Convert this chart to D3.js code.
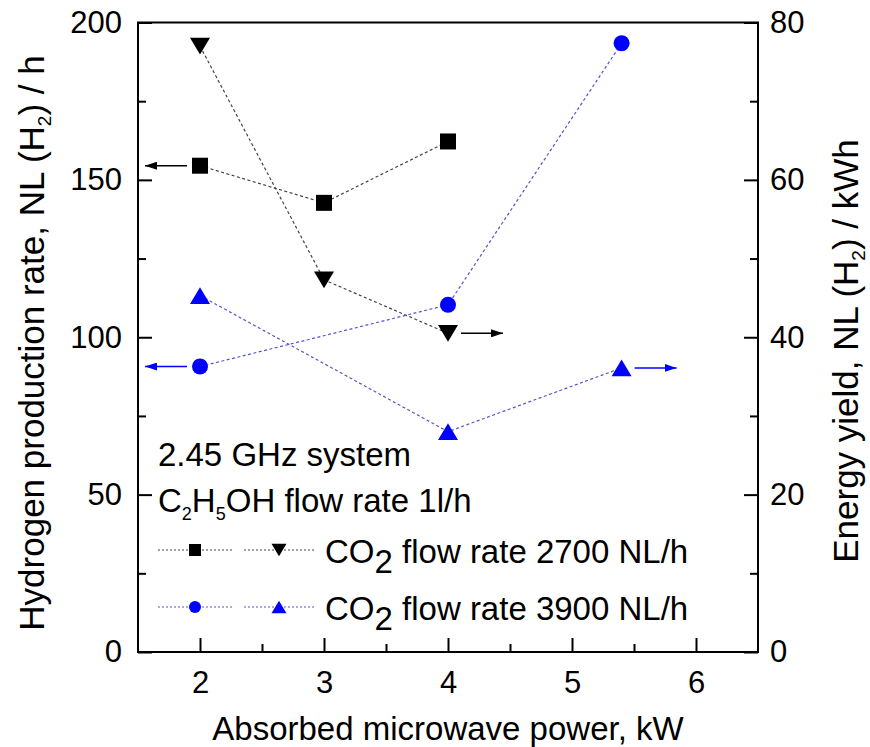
<!DOCTYPE html>
<html>
<head>
<meta charset="utf-8">
<script src="https://cdn.jsdelivr.net/npm/d3@7"></script>
<style>
  html, body { margin: 0; padding: 0; background: #fff; }
  svg { display: block; }
  text { font-family: "Liberation Sans", Arial, sans-serif; fill: #000; }
</style>
</head>
<body>
<svg id="chart" width="870" height="747"></svg>
<script>
// Absorbed microwave power, kW
const power2700 = [2, 3, 4];
const power3900 = [2, 4, 5.4];
// Hydrogen production rate, NL(H2)/h (left axis)
const h2Rate2700 = [154.5, 142.7, 162.2];
const h2Rate3900 = [90.7, 110.3, 193.4];
// Energy yield, NL(H2)/kWh (right axis)
const yield2700 = [77.0, 47.3, 40.5];
const yield3900 = [45.3, 28.0, 36.1];

const xTicks = [2, 3, 4, 5, 6];
const leftTicks = [0, 50, 100, 150, 200];
const rightTicks = [0, 20, 40, 60, 80];

const svg = d3.select("#chart");
const m = { left: 138, right: 758, top: 22.5, bottom: 652 };

const x = d3.scaleLinear().domain([1.5, 6.5]).range([m.left, m.right]);
const yL = d3.scaleLinear().domain([0, 200]).range([m.bottom, m.top]);
const yR = d3.scaleLinear().domain([0, 80]).range([m.bottom, m.top]);

const BLUE = "#0000ff";
const TICK_FS = 31;
const FS = 33;
const TITLE_FS = 35;

// arrowheads
const defs = svg.append("defs");
[["arrBlack", "#000"], ["arrBlue", BLUE]].forEach(([id, c]) => {
  defs.append("marker").attr("id", id)
    .attr("viewBox", "0 0 12 8").attr("refX", 12).attr("refY", 4)
    .attr("markerWidth", 12).attr("markerHeight", 8)
    .attr("markerUnits", "userSpaceOnUse").attr("orient", "auto")
    .append("path").attr("d", "M0,0 L12,4 L0,8 Z").attr("fill", c);
});

// frame
svg.append("rect")
  .attr("x", m.left).attr("y", m.top)
  .attr("width", m.right - m.left).attr("height", m.bottom - m.top)
  .attr("fill", "none").attr("stroke", "#000").attr("stroke-width", 2);

// axes with inward ticks
const axisStyle = g => {
  g.select(".domain").remove();
  g.selectAll(".tick line").attr("stroke", "#000").attr("stroke-width", 2);
  g.selectAll(".tick text").style("font-size", TICK_FS + "px")
    .style("font-family", '"Liberation Sans", Arial, sans-serif');
};
const minorStyle = g => {
  g.select(".domain").remove();
  g.selectAll(".tick text").remove();
  g.selectAll(".tick line").attr("stroke", "#000").attr("stroke-width", 2);
};

const minorX = [2.5, 3.5, 4.5, 5.5];
svg.append("g").attr("transform", `translate(0,${m.bottom})`)
  .call(d3.axisBottom(x).tickValues(minorX).tickSize(-8))
  .call(minorStyle);
svg.append("g").attr("transform", `translate(0,${m.bottom})`)
  .call(d3.axisBottom(x).tickValues(xTicks).tickSize(-14).tickPadding(19).tickFormat(d3.format("d")))
  .call(axisStyle);

const minorL = [25, 75, 125, 175];
svg.append("g").attr("transform", `translate(${m.left},0)`)
  .call(d3.axisLeft(yL).tickValues(minorL).tickSize(-8))
  .call(minorStyle);
svg.append("g").attr("transform", `translate(${m.left},0)`)
  .call(d3.axisLeft(yL).tickValues(leftTicks).tickSize(-14).tickPadding(16).tickFormat(d3.format("d")))
  .call(axisStyle);

const minorR = [10, 30, 50, 70];
svg.append("g").attr("transform", `translate(${m.right},0)`)
  .call(d3.axisRight(yR).tickValues(minorR).tickSize(-8))
  .call(minorStyle);
svg.append("g").attr("transform", `translate(${m.right},0)`)
  .call(d3.axisRight(yR).tickValues(rightTicks).tickSize(-14).tickPadding(12).tickFormat(d3.format("d")))
  .call(axisStyle);

// series
const series = [
  { xs: power2700, ys: h2Rate2700, y: yL, color: "#000", line: "#444", shape: "square" },
  { xs: power2700, ys: yield2700, y: yR, color: "#000", line: "#444", shape: "down" },
  { xs: power3900, ys: h2Rate3900, y: yL, color: BLUE, line: "#5555cc", shape: "circle" },
  { xs: power3900, ys: yield3900, y: yR, color: BLUE, line: "#5555cc", shape: "up" }
];

function symbolPath(shape, s) {
  if (shape === "square") return d3.symbol(d3.symbolSquare, s * s)();
  if (shape === "circle") return d3.symbol(d3.symbolCircle, Math.PI * (s / 2) * (s / 2))();
  const w = s * 1.25, h = s * 1.05;
  if (shape === "down") return `M${-w/2},${-h/2}L${w/2},${-h/2}L0,${h/2}Z`;
  return `M${-w/2},${h/2}L${w/2},${h/2}L0,${-h/2}Z`;
}

const line = d3.line();
series.forEach(sr => {
  const pts = sr.xs.map((v, i) => [x(v), sr.y(sr.ys[i])]);
  svg.append("path").attr("d", line(pts))
    .attr("fill", "none").attr("stroke", sr.line)
    .attr("stroke-width", 1.2).attr("stroke-dasharray", "3,2.5");
  svg.append("g").selectAll("path").data(pts).join("path")
    .attr("transform", d => `translate(${d[0]},${d[1]})`)
    .attr("d", symbolPath(sr.shape, 16))
    .attr("fill", sr.color);
});

// arrows showing which axis each series is read against
function arrow(px, py, dir, color, id) {
  const x0 = px + dir * 13, x1 = px + dir * 55;
  svg.append("line").attr("x1", x0).attr("y1", py).attr("x2", x1).attr("y2", py)
    .attr("stroke", color).attr("stroke-width", 1.5)
    .attr("marker-end", `url(#${id})`);
}
arrow(x(power2700[0]), yL(h2Rate2700[0]), -1, "#000", "arrBlack");
arrow(x(power2700[2]), yR(yield2700[2]), 1, "#000", "arrBlack");
arrow(x(power3900[0]), yL(h2Rate3900[0]), -1, BLUE, "arrBlue");
arrow(x(power3900[2]), yR(yield3900[2]), 1, BLUE, "arrBlue");

// text with subscripts: parts = [[text, isSub]]
function richText(g, parts, size, subSize, subShift) {
  let shifted = false;
  parts.forEach(([t, sub]) => {
    const ts = g.append("tspan").text(t).style("font-size", (sub ? subSize : size) + "px");
    if (sub && !shifted) { ts.attr("dy", subShift); shifted = true; }
    else if (!sub && shifted) { ts.attr("dy", -subShift); shifted = false; }
  });
}

// axis titles
const tL = svg.append("text")
  .attr("transform", `translate(44,343) rotate(-90)`).attr("text-anchor", "middle");
richText(tL, [["Hydrogen production rate, NL (H", false], ["2", true], [") / h", false]], TITLE_FS, 19, 7);

const tR = svg.append("text")
  .attr("transform", `translate(858,351) rotate(-90)`).attr("text-anchor", "middle");
richText(tR, [["Energy yield, NL (H", false], ["2", true], [") / kWh", false]], TITLE_FS, 19, 7);

svg.append("text").attr("x", 448).attr("y", 740).attr("text-anchor", "middle")
  .style("font-size", FS + "px").text("Absorbed microwave power, kW");

// annotation
svg.append("text").attr("x", 158).attr("y", 466).style("font-size", FS + "px").text("2.45 GHz system");
const t2 = svg.append("text").attr("x", 158).attr("y", 512);
richText(t2, [["C", false], ["2", true], ["H", false], ["5", true], ["OH flow rate 1l/h", false]], FS, 18, 8);

// legend
const legendRows = [
  { y: 550, color: "#000", line: "#444", shapes: ["square", "down"], label: "2700" },
  { y: 607, color: BLUE, line: "#5555cc", shapes: ["circle", "up"], label: "3900" }
];
legendRows.forEach(r => {
  [[158, 232], [244, 316]].forEach(([a, b]) => {
    svg.append("line").attr("x1", a).attr("x2", b).attr("y1", r.y).attr("y2", r.y)
      .attr("stroke", r.line).attr("stroke-width", 1).attr("stroke-dasharray", "2,2");
  });
  svg.append("path").attr("transform", `translate(195,${r.y})`).attr("d", symbolPath(r.shapes[0], 12)).attr("fill", r.color);
  svg.append("path").attr("transform", `translate(279,${r.y})`).attr("d", symbolPath(r.shapes[1], 12)).attr("fill", r.color);
  const t = svg.append("text").attr("x", 325).attr("y", r.y + 13);
  richText(t, [["CO", false], ["2", true], [` flow rate ${r.label} NL/h`, false]], FS, FS, 10);
});
</script>
</body>
</html>
